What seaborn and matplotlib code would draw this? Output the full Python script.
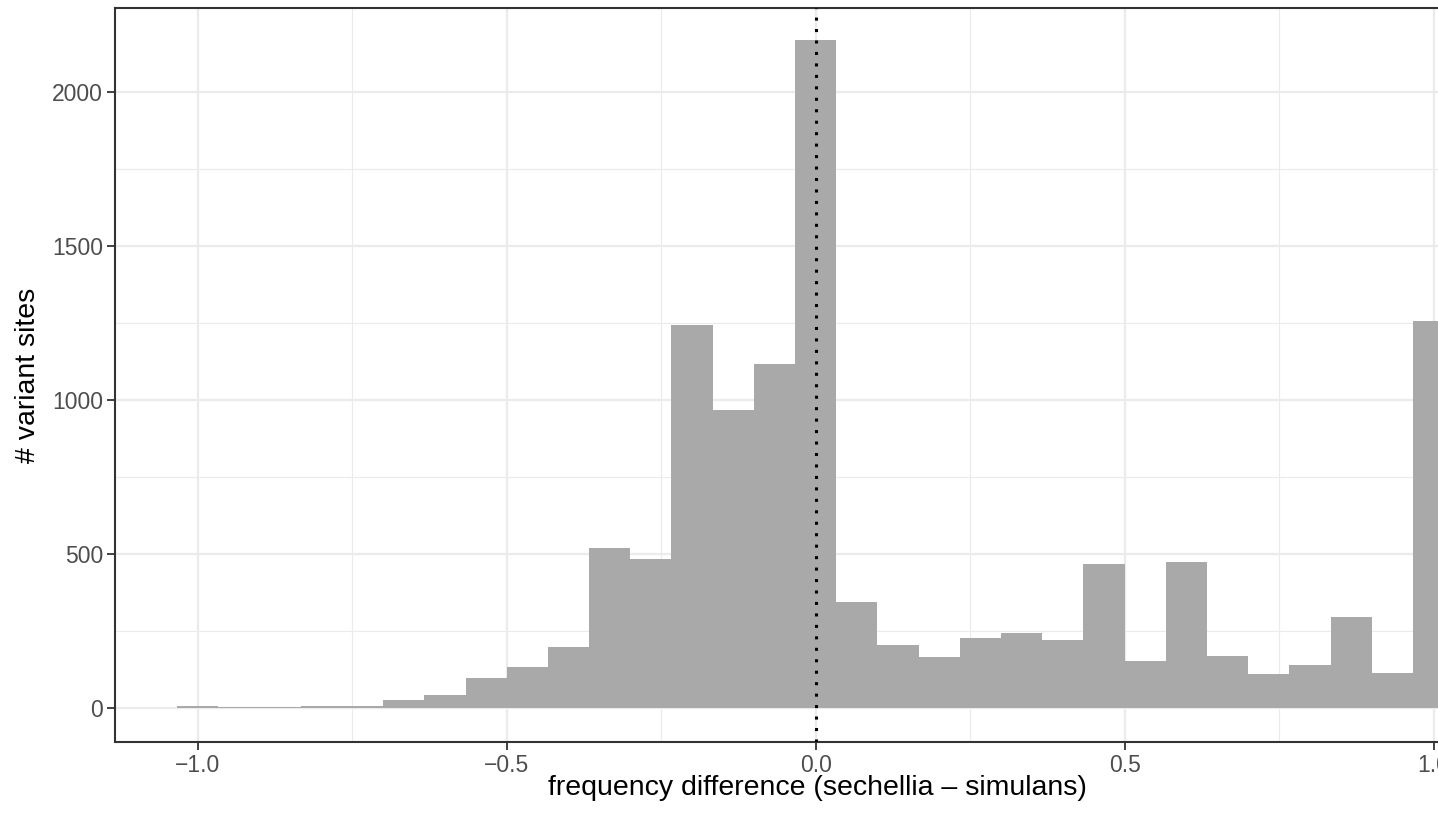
import numpy as np
import pandas as pd
import matplotlib
matplotlib.use("Agg")
import matplotlib.pyplot as plt
import seaborn as sns
from matplotlib.ticker import FixedLocator

# ---- data ----
bin_centers = [-1.0 + k / 15 for k in range(31)]
counts = [5, 3, 4, 5, 5, 25, 41, 98, 132, 199,
          520, 485, 1243, 968, 1117, 2168, 345, 205, 167, 228,
          245, 220, 468, 152, 473, 169, 109, 140, 297, 113, 1255]
x_ticks = [-1.0, -0.5, 0.0, 0.5, 1.0]
x_ticklabels = ["\u22121.0", "\u22120.5", "0.0", "0.5", "1.0"]
y_ticks = [0, 500, 1000, 1500, 2000]
y_ticklabels = ["0", "500", "1000", "1500", "2000"]
x_label = "frequency difference (sechellia \u2013 simulans)"
y_label = "# variant sites"

df = pd.DataFrame({"diff": bin_centers, "n": counts})

sns.set_theme(style="white")
plt.rcParams["font.family"] = ["Liberation Sans", "DejaVu Sans"]

fig = plt.figure(figsize=(14.38, 8.13), dpi=100)
W, H = 1438, 813
left_px, right_px, top_px, bottom_px = 115, 1520, 8, 742
ax = fig.add_axes([left_px / W, (H - bottom_px) / H,
                   (right_px - left_px) / W, (bottom_px - top_px) / H])

binw = 1 / 15
sns.histplot(data=df, x="diff", weights="n", binwidth=binw,
             binrange=(-1 - binw / 2, 1 + binw / 2),
             color="#A9A9A9", alpha=1, linewidth=0, ax=ax, zorder=2)

ax.axvline(0, color="black", lw=2.2, linestyle=(0, (1, 2.75)), zorder=3)

ax.set_xlim(-1.134, 1.14)
ax.set_ylim(-110.4, 2272.7)

ax.set_xticks(x_ticks)
ax.set_xticklabels(x_ticklabels)
ax.set_yticks(y_ticks)
ax.set_yticklabels(y_ticklabels)
ax.xaxis.set_minor_locator(FixedLocator([-0.75, -0.25, 0.25, 0.75]))
ax.yaxis.set_minor_locator(FixedLocator([250, 750, 1250, 1750]))

ax.grid(True, which="major", color="#EBEBEB", lw=1.6, zorder=0)
ax.grid(True, which="minor", color="#EBEBEB", lw=0.8, zorder=0)
ax.set_axisbelow(True)

for s in ax.spines.values():
    s.set_color("#333333")
    s.set_linewidth(1.5)

ax.tick_params(axis="both", which="major", length=5.5, width=1.3, color="#333333",
               labelsize=16.5, labelcolor="#4D4D4D", pad=3, bottom=True, left=True)
ax.tick_params(axis="both", which="minor", length=0)

ax.set_xlabel(x_label, fontsize=20.5, color="black", labelpad=-1)
ax.set_ylabel(y_label, fontsize=20.5, color="black", labelpad=8)

fig.savefig("out.png", dpi=100)
